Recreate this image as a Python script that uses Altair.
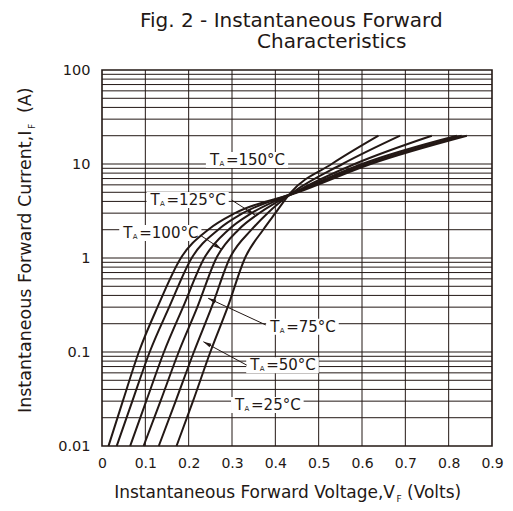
import math
import altair as alt
import pandas as pd

# ---------------- data ----------------
I_levels = [0.01, 0.03, 0.1, 0.3, 1, 2, 3, 5, 10, 20]
V_150 = [0.015, 0.048, 0.085, 0.128, 0.182, 0.245, 0.307, 0.452, 0.620, 0.842]
V_125 = [0.034, 0.070, 0.110, 0.155, 0.207, 0.268, 0.325, 0.448, 0.610, 0.830]
V_100 = [0.065, 0.102, 0.143, 0.187, 0.236, 0.292, 0.345, 0.447, 0.600, 0.819]
V_75 = [0.096, 0.135, 0.177, 0.220, 0.264, 0.315, 0.363, 0.445, 0.583, 0.761]
V_50 = [0.131, 0.170, 0.212, 0.253, 0.295, 0.345, 0.382, 0.441, 0.555, 0.688]
V_25 = [0.172, 0.210, 0.250, 0.290, 0.330, 0.372, 0.400, 0.436, 0.530, 0.638]
temps = ["150", "125", "100", "75", "50", "25"]
series = [V_150, V_125, V_100, V_75, V_50, V_25]

x_ticks = [0, 0.1, 0.2, 0.3, 0.4, 0.5, 0.6, 0.7, 0.8, 0.9]
y_ticks = [0.01, 0.1, 1, 10, 100]
x_grid = [0.1, 0.2, 0.3, 0.4, 0.5, 0.6, 0.7, 0.8]
y_grid = [0.02, 0.03, 0.04, 0.05, 0.06, 0.07, 0.08, 0.09,
          0.1, 0.2, 0.3, 0.4, 0.5, 0.6, 0.7, 0.8, 0.9,
          1, 2, 3, 4, 5, 6, 7, 8, 9,
          10, 20, 30, 40, 50, 60, 70, 80, 90]

label_temp = ["150", "125", "100", "75", "50", "25"]
label_V = [0.249, 0.112, 0.049, 0.388, 0.342, 0.307]
label_I = [11.0, 4.14, 1.84, 0.186, 0.0725, 0.0273]

arrow_V1 = [0.299, 0.226, 0.378, 0.334]
arrow_I1 = [4.14, 1.757, 0.194, 0.0725]
arrow_V2 = [0.353, 0.276, 0.245, 0.234]
arrow_I2 = [2.87, 1.237, 0.373, 0.1286]

title_lines = ["Fig. 2 - Instantaneous Forward", "Characteristics"]
x_title = ["Instantaneous Forward Voltage,V", "F", "(Volts)"]
y_title = ["Instantaneous Forward Current,I", "F", "(A)"]

# ---------------- layout ----------------
W, H = 390, 376
INK = "#231815"
FONT = "DejaVu Sans"
XMAX = 0.9
DEC_PX = H / 4.0

xscale = alt.Scale(domain=[0, XMAX], nice=False, zero=False)
yscale = alt.Scale(type="log", domain=[0.01, 100], nice=False)
xaxis = alt.Axis(values=x_ticks, format=".1~f", grid=False, ticks=False, tickSize=0,
                 domain=False, labelFont=FONT, labelFontSize=14, labelColor=INK,
                 labelPadding=10, title=None, labelFlush=False)
yaxis = alt.Axis(values=y_ticks, format=".2~f", grid=False, ticks=False, tickSize=0,
                 domain=False, labelFont=FONT, labelFontSize=14.5, labelColor=INK,
                 labelPadding=12, title=None, labelFlush=False)


def xe(f):
    return alt.X(f, type="quantitative", scale=xscale, axis=xaxis)


def ye(f):
    return alt.Y(f, type="quantitative", scale=yscale, axis=yaxis)


rows = []
for t, vs in zip(temps, series):
    for i, (v, cur) in enumerate(zip(vs, I_levels)):
        rows.append({"T": t, "V": v, "I": cur, "o": i})
curves_df = pd.DataFrame(rows)

vgrid = alt.Chart(pd.DataFrame({"gx": x_grid})).mark_rule(color=INK, strokeWidth=1).encode(x=xe("gx"))
hgrid = alt.Chart(pd.DataFrame({"gy": y_grid})).mark_rule(color=INK, strokeWidth=1).encode(y=ye("gy"))


def text_width(s, size):
    w = {"=": 838, "0": 636, "1": 636, "2": 636, "3": 636, "4": 636, "5": 636,
         "6": 636, "7": 636, "8": 636, "9": 636, "°": 500, "C": 698}
    return sum(w.get(c, 600) for c in s) * size / 1000.0


LAB = 15
lab_rows = []
for t, v, cur in zip(label_temp, label_V, label_I):
    rest = "=" + t + "°C"
    wtot = 16 + text_width(rest, LAB)
    box = "M-4,-8H%.1fV8H-4Z" % (wtot + 3)
    lab_rows.append({"V": v, "I": cur, "T": "T", "A": "A", "rest": rest, "box": box})
lab_df = pd.DataFrame(lab_rows)

boxes = alt.Chart(lab_df).mark_point(filled=True, fill="white", opacity=1, size=4).encode(
    x=xe("V"), y=ye("I"), shape=alt.Shape("box:N", scale=None, legend=None))

lab_T = alt.Chart(lab_df).mark_text(align="left", baseline="middle", font=FONT, fontSize=LAB,
                                    color=INK).encode(x=xe("V"), y=ye("I"), text="T:N")
lab_A = alt.Chart(lab_df).mark_text(align="left", baseline="middle", font=FONT, fontSize=7,
                                    color=INK, dx=9.5, dy=4).encode(x=xe("V"), y=ye("I"), text="A:N")
lab_R = alt.Chart(lab_df).mark_text(align="left", baseline="middle", font=FONT, fontSize=LAB,
                                    color=INK, dx=16).encode(x=xe("V"), y=ye("I"), text="rest:N")


def px(v, cur):
    return v / XMAX * W, (2 - math.log10(cur)) * DEC_PX


arr_rows = []
for v1, i1, v2, i2 in zip(arrow_V1, arrow_I1, arrow_V2, arrow_I2):
    x1, y1 = px(v1, i1)
    x2, y2 = px(v2, i2)
    ang = math.degrees(math.atan2(x2 - x1, -(y2 - y1))) % 360
    arr_rows.append({"V1": v1, "I1": i1, "V2": v2, "I2": i2, "ang": ang})
arr_df = pd.DataFrame(arr_rows)

arr_lines = alt.Chart(arr_df).mark_rule(color=INK, strokeWidth=1).encode(
    x=xe("V1"), y=ye("I1"), x2="V2", y2="I2")
arr_heads = alt.Chart(arr_df).mark_point(filled=True, color=INK, opacity=1, size=4,
                                         shape="M0,0L-2,8L2,8Z").encode(
    x=xe("V2"), y=ye("I2"), angle=alt.Angle("ang:Q", scale=None))

lines = alt.Chart(curves_df).mark_line(color=INK, strokeWidth=2, interpolate="monotone").encode(
    x=xe("V"), y=ye("I"), detail="T:N", order="o:Q")

one = pd.DataFrame({"k": [0]})


def txt(s, x, y, size, align="left", baseline="alphabetic", angle=0):
    kw = dict(align=align, baseline=baseline, font=FONT, fontSize=size, color=INK, text=s)
    if angle:
        kw["angle"] = angle
    return alt.Chart(one).mark_text(**kw).encode(x=alt.value(x), y=alt.value(y))


xt_size = 17
xt_anchor = 293
texts = [
    txt(title_lines[0], 38, -43.5, 20),
    txt(title_lines[1], 155, -21.7, 20),
    txt(x_title[0], xt_anchor, 428, xt_size, align="right"),
    txt(x_title[1], xt_anchor + 1.5, 432, 9),
    txt(x_title[2], xt_anchor + 12, 428, xt_size),
    txt(y_title[0], -71.5, 343, 17.5, angle=270),
    txt(y_title[1], -67, 59, 9, angle=270),
    txt(y_title[2], -71.5, 43, 17.5, angle=270),
]

chart = alt.layer(vgrid, hgrid, boxes, arr_lines, arr_heads, lines, lab_T, lab_A, lab_R, *texts).properties(
    width=W, height=H,
    autosize=alt.AutoSizeParams(type="none"),
    padding={"left": 94, "top": 62, "right": 13, "bottom": 57},
    background="white",
).configure_view(stroke=INK, strokeWidth=1.6)

chart.save("out.html", embed_options={"renderer": "svg", "actions": False})
